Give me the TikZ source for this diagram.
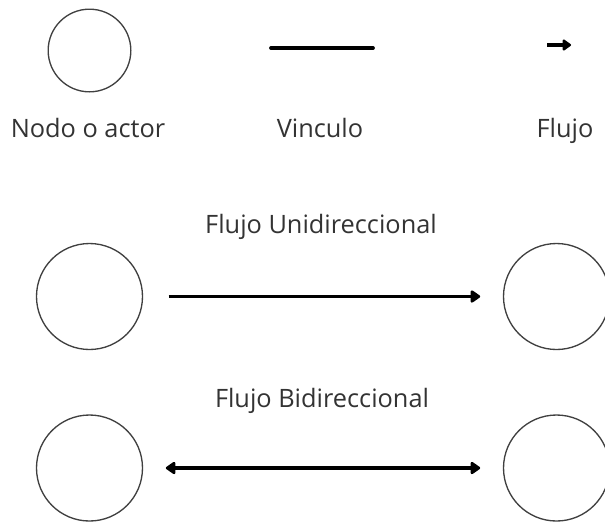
\documentclass[tikz,border=0pt]{standalone}
\usepackage{fontspec}
\setmainfont{Open Sans}
\usetikzlibrary{arrows.meta}

\tikzset{every picture/.style={line width=0.75pt}}
\tikzset{
  actor/.style={draw=black!75, line width=1pt, circle, minimum size=#1, inner sep=0pt},
  actor/.default=79.5pt,
  lbl/.style={text=black!80, font=\fontsize{19}{22}\selectfont, anchor=base},
  flow/.style={line width=2.8pt, -{Triangle[length=8pt,width=10.5pt,round]}},
  bflow/.style={line width=2.8pt, {Triangle[length=8pt,width=10.5pt,round]}-{Triangle[length=8pt,width=10.5pt,round]}}
}

\begin{document}
\begin{tikzpicture}[x=0.75pt,y=0.75pt,yscale=-1,xscale=1]
\useasboundingbox (0,0) rectangle (605,522);
\clip (0,0) rectangle (605,522);

%Legend row
\node[actor=62pt] (nodo) at (89.5,50.5) {};
\coordinate (vinA) at (271,48);
\coordinate (vinB) at (373,48);
\draw[line width=2.8pt, line cap=round] (vinA) -- (vinB);
\coordinate (fluA) at (547,45);
\coordinate (fluB) at (571,45);
\draw[line width=2.8pt, -{Triangle[length=7pt,width=9.5pt,round]}] (fluA) -- (fluB);

\node[lbl] (tnodo) at (88,137) {Nodo o actor};
\node[lbl] (tvin) at (320,137) {Vinculo};
\node[lbl] (tflu) at (565,137) {Flujo};

%Unidirectional flow
\node[lbl] (tuni) at (321,233) {Flujo Unidireccional};
\node[actor] (uniA) at (89.5,296.5) {};
\node[actor] (uniB) at (556.5,296.5) {};
\draw[flow] ([xshift=19pt]uniA.east) -- ([xshift=-17pt]uniB.west);

%Bidirectional flow
\node[lbl] (tbi) at (322,407) {Flujo Bidireccional};
\node[actor] (biA) at (89.5,468) {};
\node[actor] (biB) at (556.5,468) {};
\draw[bflow] ([xshift=17pt]biA.east) -- ([xshift=-17pt]biB.west);

\end{tikzpicture}
\end{document}
